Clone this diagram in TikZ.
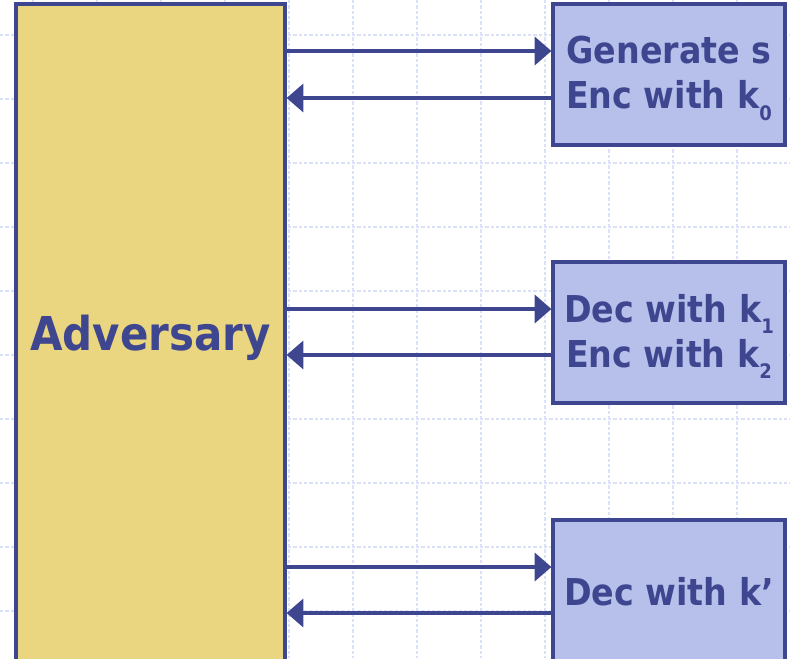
\documentclass[tikz,border=0pt]{standalone}
\usepackage{fontspec}
\newfontfamily\labelfont{DejaVu Sans Bold}[FakeStretch=0.9]
\usetikzlibrary{arrows.meta,calc}
\definecolor{ink}{HTML}{3F4690}
\definecolor{advfill}{HTML}{EAD580}
\definecolor{boxfill}{HTML}{B7C0EB}
\definecolor{gridc}{HTML}{DAE2FA}
\newcommand\lowsub[1]{\raisebox{-8.5pt}{\fontsize{15pt}{15pt}\selectfont #1}}
\begin{document}
\begin{tikzpicture}[x=0.75pt,y=-0.75pt,
  party/.style={draw=ink,line width=2.4pt,fill=advfill,inner sep=0pt,
    minimum width=269*0.75pt,minimum height=662*0.75pt},
  oracle/.style={draw=ink,line width=2.4pt,fill=boxfill,inner sep=0pt,
    minimum width=232*0.75pt,minimum height=141*0.75pt},
  bigtext/.style={text=ink,inner sep=0pt,font=\labelfont\fontsize{35pt}{40pt}\selectfont},
  boxtext/.style={text=ink,inner sep=0pt,align=center,
    font=\labelfont\fontsize{27.75pt}{33.75pt}\selectfont},
  msg/.style={draw=ink,line width=2.4pt,-{Triangle[length=12.5pt,width=21pt]}},
  gridline/.style={gridc,line width=0.9pt,dash pattern=on 2.4pt off 1.6pt}]
\useasboundingbox (0,0) rectangle (790,658);
\clip (0,0) rectangle (790,658);
% background grid
\foreach \gx in {33,97,...,737} \draw[gridline] (\gx,0) -- (\gx,658);
\foreach \gy in {35,99,...,611} \draw[gridline] (0,\gy) -- (790,\gy);
% parties
\node[party] (adv) at (150.5,335) {};
\node[oracle] (b1) at (669,74.5) {};
\node[oracle] (b2) at (669,332.5) {};
\node[oracle] (b3) at (669,590.5) {};
% labels
\node[bigtext] (advt) at ([yshift=-3*0.75pt]adv.center) {Adversary};
\node[boxtext] (b1t) at ([yshift=-4*0.75pt]b1.center) {Generate s\\Enc with k\lowsub{0}};
\node[boxtext] (b2t) at ([yshift=-4*0.75pt]b2.center) {Dec with k\lowsub{1}\\Enc with k\lowsub{2}};
\node[boxtext] (b3t) at ([yshift=-1*0.75pt]b3.center) {Dec with k’};
% message endpoints on the oracle sides
\coordinate (q1) at ($(b1.west)+(0,-23.5)$);
\coordinate (r1) at ($(b1.west)+(0,23.5)$);
\coordinate (q2) at ($(b2.west)+(0,-23.5)$);
\coordinate (r2) at ($(b2.west)+(0,22.5)$);
\coordinate (q3) at ($(b3.west)+(0,-23.5)$);
\coordinate (r3) at ($(b3.west)+(0,22.5)$);
% messages
\draw[msg] (q1 -| adv.east) -- (q1);
\draw[msg] (r1) -- (r1 -| adv.east);
\draw[msg] (q2 -| adv.east) -- (q2);
\draw[msg] (r2) -- (r2 -| adv.east);
\draw[msg] (q3 -| adv.east) -- (q3);
\draw[msg] (r3) -- (r3 -| adv.east);
\end{tikzpicture}
\end{document}
